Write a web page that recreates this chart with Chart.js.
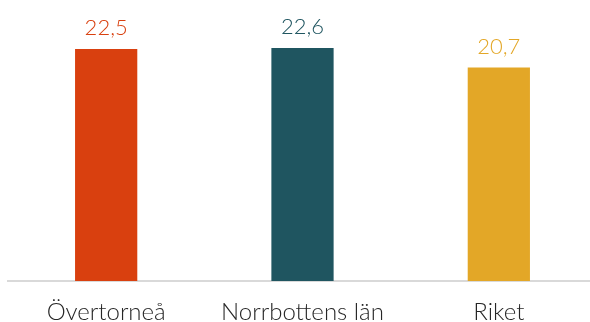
<!DOCTYPE html>
<html>
<head>
<meta charset="utf-8">
<script src="https://cdn.jsdelivr.net/npm/chart.js@4"></script>
<style>
  html, body { margin: 0; padding: 0; background: #fff; overflow: hidden; }
  #wrap { width: 597px; height: 322px; }
</style>
</head>
<body>
<div id="wrap"><canvas id="chart"></canvas></div>
<script>
const categories = ['Övertorneå', 'Norrbottens län', 'Riket'];
const values = [22.5, 22.6, 20.7];
const barColors = ['#D9400F', '#1F5560', '#E3A727'];

// value labels above each bar, comma as decimal separator
const valueLabels = {
    id: 'valueLabels',
    afterDatasetsDraw(chart) {
        const ctx = chart.ctx;
        const meta = chart.getDatasetMeta(0);
        ctx.save();
        ctx.font = '300 22px Lato';
        ctx.textAlign = 'center';
        ctx.textBaseline = 'bottom';
        meta.data.forEach((bar, i) => {
            ctx.fillStyle = barColors[i];
            ctx.fillText(values[i].toFixed(1).replace('.', ','), bar.x, bar.y - 10);
        });
        ctx.restore();
    }
};

const ctx = document.getElementById('chart');
new Chart(ctx, {
    type: 'bar',
    data: {
        labels: categories,
        datasets: [{
            data: values,
            backgroundColor: barColors,
            barPercentage: 0.317,
            categoryPercentage: 1
        }]
    },
    options: {
        responsive: true,
        maintainAspectRatio: false,
        animation: false,
        layout: { padding: { left: 8, right: 0, top: 0, bottom: 0 } },
        plugins: {
            legend: { display: false },
            tooltip: { enabled: false }
        },
        scales: {
            x: {
                grid: { display: false },
                border: { display: true, color: '#d9d9d9', width: 2 },
                ticks: {
                    color: '#262626',
                    font: { family: 'Lato', size: 24, weight: '300' },
                    padding: 9
                },
                afterFit(scale) { scale.height = 41; }
            },
            y: {
                display: false,
                min: 0,
                max: 27.25
            }
        }
    },
    plugins: [valueLabels]
});
</script>
</body>
</html>
